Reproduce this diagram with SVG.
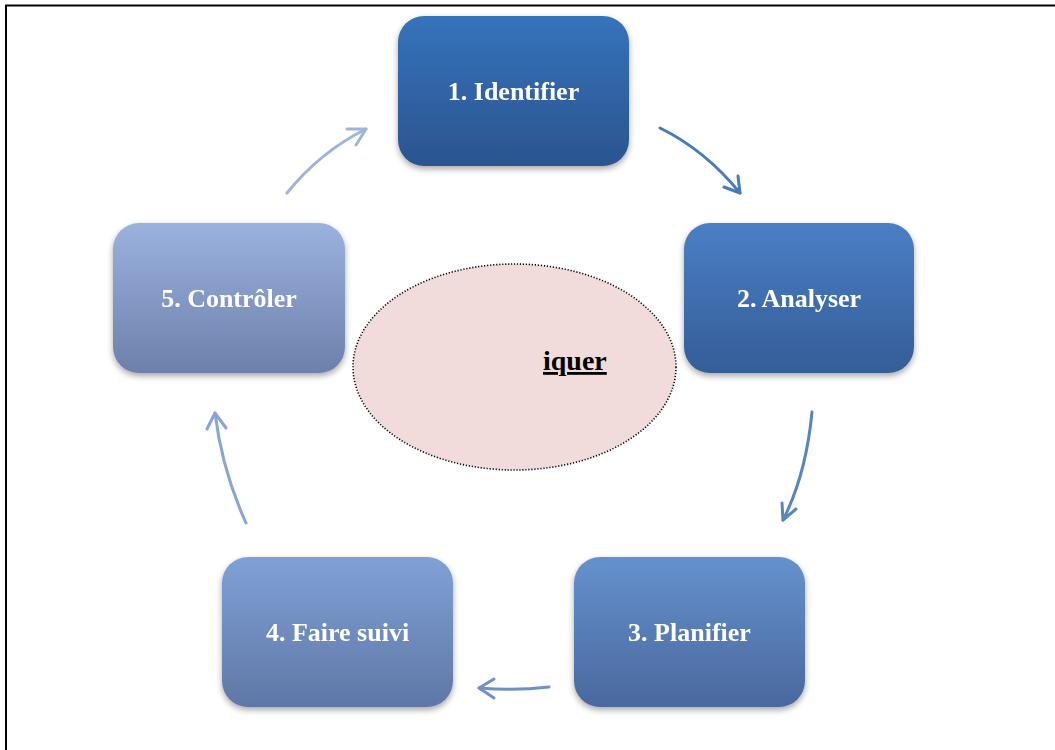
<svg xmlns="http://www.w3.org/2000/svg" width="1055" height="750" viewBox="0 0 1055 750">
  <style>
    .label { font-family: "Liberation Serif", "Times New Roman", serif; font-weight: bold; font-size: 26px; fill: #ffffff; text-anchor: middle; }
    .conn { fill: none; stroke-width: 3; stroke-linecap: round; stroke-linejoin: round; }
    .center-text { font-family: "Liberation Serif", "Times New Roman", serif; font-weight: bold; font-size: 28px; fill: #000000; text-decoration: underline; }
  </style>
  <defs>
    <linearGradient id="g1" x1="0" y1="0" x2="0" y2="1"><stop offset="0" stop-color="#3673bb"/><stop offset="1" stop-color="#2b548f"/></linearGradient>
    <linearGradient id="g2" x1="0" y1="0" x2="0" y2="1"><stop offset="0" stop-color="#4a7fc5"/><stop offset="1" stop-color="#355d98"/></linearGradient>
    <linearGradient id="g3" x1="0" y1="0" x2="0" y2="1"><stop offset="0" stop-color="#6591cd"/><stop offset="1" stop-color="#4a689e"/></linearGradient>
    <linearGradient id="g4" x1="0" y1="0" x2="0" y2="1"><stop offset="0" stop-color="#80a1d6"/><stop offset="1" stop-color="#5f77a6"/></linearGradient>
    <linearGradient id="g5" x1="0" y1="0" x2="0" y2="1"><stop offset="0" stop-color="#9cb2de"/><stop offset="1" stop-color="#6c80ab"/></linearGradient>
    <filter id="shadow" x="-10%" y="-10%" width="120%" height="130%">
      <feGaussianBlur in="SourceAlpha" stdDeviation="3"/>
      <feOffset dx="0" dy="3" result="b"/>
      <feComponentTransfer><feFuncA type="linear" slope="0.35"/></feComponentTransfer>
      <feMerge><feMergeNode/><feMergeNode in="SourceGraphic"/></feMerge>
    </filter>
  </defs>

  <rect width="1055" height="750" fill="#ffffff"/>
  <!-- page frame -->
  <line x1="5" y1="5.5" x2="1055" y2="5.5" stroke="#000" stroke-width="2"/>
  <line x1="6" y1="5" x2="6" y2="750" stroke="#000" stroke-width="2"/>

  <!-- central ellipse -->
  <g id="center">
    <ellipse cx="514.5" cy="367" rx="161.5" ry="103" fill="#f2dcdb" stroke="#000" stroke-width="1.6" stroke-dasharray="1.2 1.8"/>
    <text class="center-text" x="543" y="370">iquer</text>
  </g>

  <g id="connectors">
    <g stroke="#4a7ab8" class="conn">
      <path class="conn" d="M660 128 Q705 150 740 193"/>
      <path class="conn" d="M740 193 L724 187 M740 193 L738 176"/>
    </g>
    <g stroke="#5a84bf" class="conn">
      <path class="conn" d="M812 412 Q806 475 783 520"/>
      <path class="conn" d="M783 520 L782 503 M783 520 L796 509"/>
    </g>
    <g stroke="#6e91c8" class="conn">
      <path class="conn" d="M549 687 Q515 691 479 688"/>
      <path class="conn" d="M479 688 L494 679 M479 688 L494 698"/>
    </g>
    <g stroke="#87a6d4" class="conn">
      <path class="conn" d="M246 523 Q222 470 215 413"/>
      <path class="conn" d="M215 413 L207 429 M215 413 L226 428"/>
    </g>
    <g stroke="#9db4dc" class="conn">
      <path class="conn" d="M287 193 Q320 152 366 129"/>
      <path class="conn" d="M366 129 L347 129 M366 129 L356 145"/>
    </g>
  </g>

  <g id="node1" filter="url(#shadow)">
    <rect x="398" y="16" width="231" height="150" rx="26" fill="url(#g1)"/>
    <text class="label" x="513.5" y="100">1. Identifier</text>
  </g>
  <g id="node2" filter="url(#shadow)">
    <rect x="684" y="223" width="230" height="150" rx="26" fill="url(#g2)"/>
    <text class="label" x="799" y="307">2. Analyser</text>
  </g>
  <g id="node3" filter="url(#shadow)">
    <rect x="574" y="557" width="231" height="150" rx="26" fill="url(#g3)"/>
    <text class="label" x="689.5" y="641">3. Planifier</text>
  </g>
  <g id="node4" filter="url(#shadow)">
    <rect x="222" y="557" width="231" height="150" rx="26" fill="url(#g4)"/>
    <text class="label" x="337.5" y="641">4. Faire suivi</text>
  </g>
  <g id="node5" filter="url(#shadow)">
    <rect x="113" y="223" width="232" height="150" rx="26" fill="url(#g5)"/>
    <text class="label" x="229" y="307">5. Contrôler</text>
  </g>
</svg>
